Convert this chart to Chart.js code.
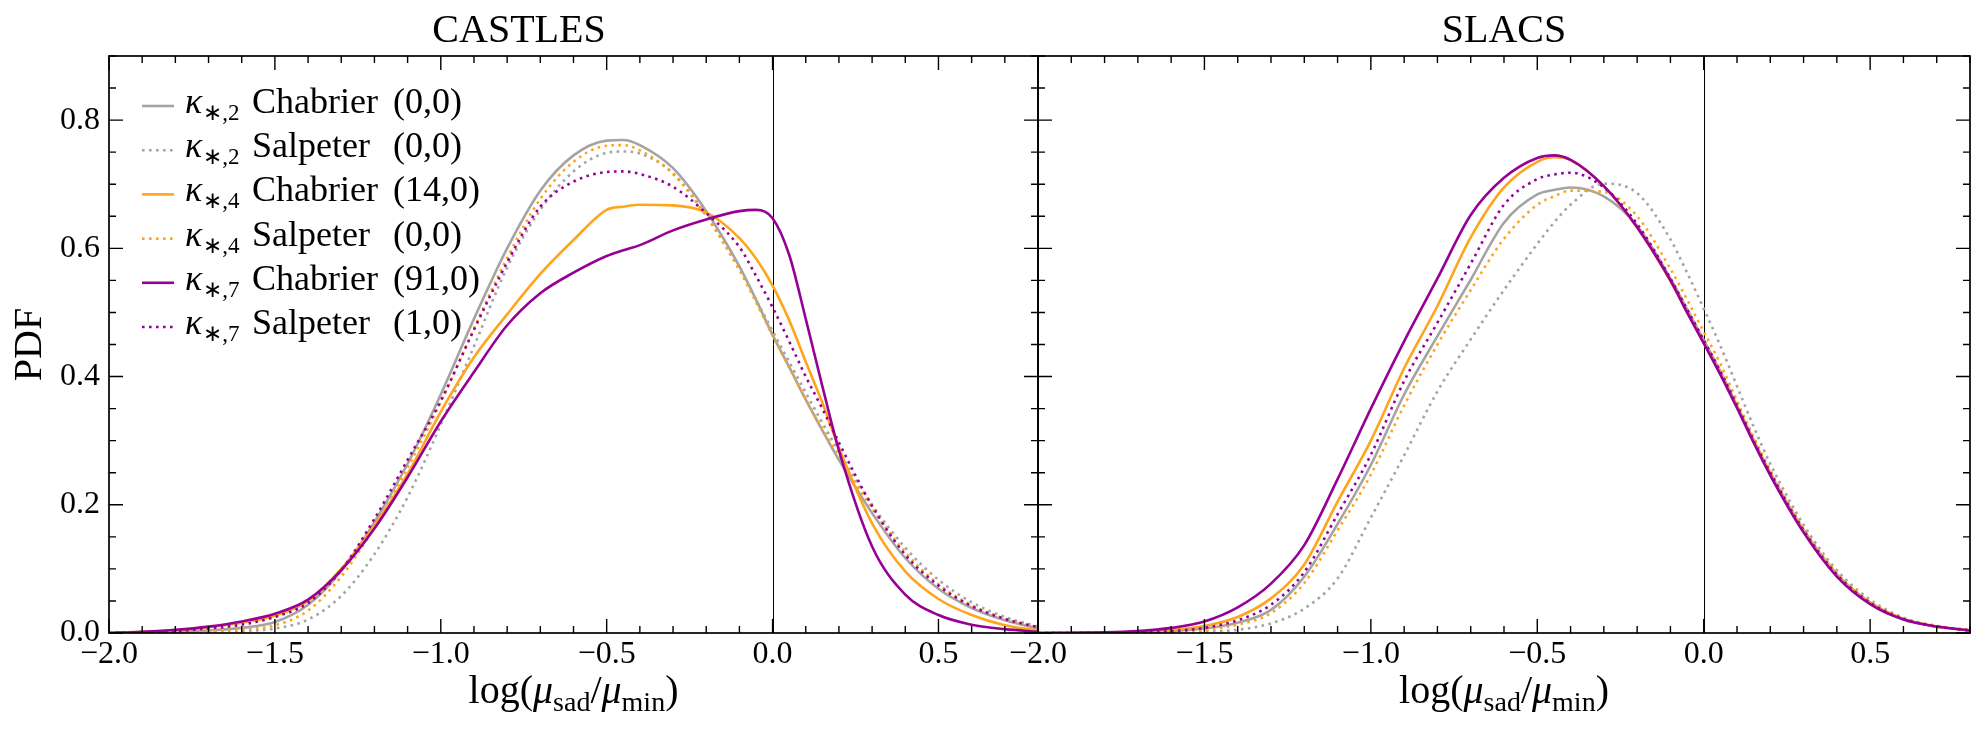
<!DOCTYPE html>
<html>
<head>
<meta charset="utf-8">
<script src="https://cdn.jsdelivr.net/npm/chart.js@4.4.1/dist/chart.umd.min.js"></script>
<style>
  html, body { margin: 0; padding: 0; background: #fff; }
  #wrap { position: relative; width: 1985px; height: 736px; overflow: hidden; }
  canvas { position: absolute; top: 0; }
  #castles { left: 0; }
  #slacs { left: 990px; }
</style>
</head>
<body>
<div id="wrap">
  <canvas id="castles" width="1060" height="736"></canvas>
  <canvas id="slacs" width="995" height="736"></canvas>
</div>
<script>
// x grid: log(mu_sad / mu_min)
const logRatio = [-2.0, -1.9, -1.8, -1.7, -1.6, -1.5, -1.4, -1.3, -1.2, -1.1, -1.0, -0.9, -0.8, -0.7, -0.6, -0.5, -0.45, -0.4, -0.3, -0.2, -0.1,
  -0.05, 0.0, 0.05, 0.1, 0.15, 0.2, 0.3, 0.4, 0.5, 0.6, 0.7, 0.8];

// CASTLES panel
const castlesChab2 = [0, 0.001, 0.002, 0.004, 0.008, 0.017, 0.044, 0.097, 0.173, 0.264, 0.372, 0.49, 0.6, 0.69, 0.745, 0.768, 0.769, 0.761, 0.725, 0.658, 0.572, 0.52, 0.465, 0.415, 0.364, 0.316, 0.27, 0.187, 0.117, 0.069, 0.039, 0.02, 0.007];
const castlesSalp2 = [0, 0, 0.001, 0.002, 0.003, 0.007, 0.021, 0.058, 0.123, 0.212, 0.325, 0.447, 0.57, 0.66, 0.72, 0.749, 0.751, 0.748, 0.717, 0.652, 0.568, 0.52, 0.471, 0.423, 0.375, 0.328, 0.283, 0.2, 0.133, 0.083, 0.048, 0.025, 0.01];
const castlesChab4 = [0, 0.002, 0.004, 0.009, 0.016, 0.027, 0.05, 0.1, 0.168, 0.248, 0.345, 0.43, 0.497, 0.56, 0.613, 0.66, 0.665, 0.668, 0.667, 0.656, 0.616, 0.584, 0.542, 0.488, 0.423, 0.359, 0.289, 0.171, 0.096, 0.053, 0.028, 0.012, 0.004];
const castlesSalp4 = [0, 0.001, 0.002, 0.003, 0.006, 0.012, 0.035, 0.088, 0.165, 0.258, 0.36, 0.475, 0.585, 0.677, 0.735, 0.76, 0.761, 0.753, 0.716, 0.65, 0.566, 0.516, 0.464, 0.414, 0.365, 0.319, 0.275, 0.194, 0.126, 0.076, 0.043, 0.022, 0.008];
const castlesChab7 = [0, 0.002, 0.005, 0.01, 0.018, 0.03, 0.052, 0.098, 0.163, 0.243, 0.33, 0.407, 0.48, 0.53, 0.562, 0.588, 0.597, 0.605, 0.628, 0.645, 0.658, 0.66, 0.647, 0.59, 0.49, 0.385, 0.285, 0.135, 0.06, 0.028, 0.013, 0.006, 0.002];
const castlesSalp7 = [0, 0.001, 0.003, 0.007, 0.013, 0.025, 0.047, 0.098, 0.178, 0.27, 0.362, 0.473, 0.578, 0.665, 0.704, 0.719, 0.72, 0.716, 0.696, 0.655, 0.602, 0.557, 0.508, 0.455, 0.4, 0.35, 0.297, 0.198, 0.122, 0.074, 0.042, 0.022, 0.009];

// SLACS panel
const slacsChab2 = [0, 0, 0.0005, 0.001, 0.003, 0.007, 0.016, 0.036, 0.088, 0.17, 0.262, 0.372, 0.463, 0.551, 0.64, 0.684, 0.691, 0.695, 0.681, 0.635, 0.553, 0.505, 0.457, 0.408, 0.355, 0.301, 0.25, 0.161, 0.092, 0.048, 0.022, 0.01, 0.004];
const slacsSalp2 = [0, 0, 0, 0.0005, 0.001, 0.002, 0.005, 0.015, 0.038, 0.085, 0.18, 0.277, 0.377, 0.458, 0.535, 0.607, 0.64, 0.668, 0.701, 0.686, 0.614, 0.562, 0.506, 0.448, 0.385, 0.322, 0.264, 0.169, 0.098, 0.052, 0.024, 0.011, 0.005];
const slacsChab4 = [0, 0, 0.001, 0.002, 0.005, 0.011, 0.025, 0.054, 0.107, 0.205, 0.3, 0.413, 0.51, 0.617, 0.695, 0.735, 0.742, 0.738, 0.697, 0.632, 0.549, 0.501, 0.453, 0.405, 0.353, 0.299, 0.248, 0.159, 0.09, 0.047, 0.022, 0.01, 0.004];
const slacsSalp4 = [0, 0, 0.0005, 0.001, 0.002, 0.005, 0.013, 0.031, 0.078, 0.16, 0.247, 0.355, 0.45, 0.535, 0.615, 0.668, 0.681, 0.69, 0.688, 0.65, 0.568, 0.52, 0.47, 0.42, 0.362, 0.306, 0.254, 0.163, 0.094, 0.049, 0.023, 0.011, 0.004];
const slacsChab7 = [0, 0.0005, 0.001, 0.003, 0.008, 0.018, 0.04, 0.077, 0.137, 0.24, 0.35, 0.455, 0.553, 0.652, 0.71, 0.741, 0.745, 0.738, 0.697, 0.633, 0.55, 0.5, 0.452, 0.403, 0.351, 0.297, 0.246, 0.157, 0.088, 0.045, 0.021, 0.01, 0.004];
const slacsSalp7 = [0, 0, 0.0005, 0.001, 0.003, 0.008, 0.02, 0.044, 0.095, 0.185, 0.278, 0.393, 0.484, 0.576, 0.668, 0.708, 0.715, 0.718, 0.695, 0.638, 0.553, 0.505, 0.457, 0.408, 0.355, 0.3, 0.25, 0.16, 0.091, 0.047, 0.022, 0.01, 0.004];

// legend text pieces
const kappaIdx = ["∗,2", "∗,2", "∗,4", "∗,4", "∗,7", "∗,7"];
const imfNames = ["Chabrier", "Salpeter", "Chabrier", "Salpeter", "Chabrier", "Salpeter"];
const failCounts = ["(0,0)", "(0,0)", "(14,0)", "(0,0)", "(91,0)", "(1,0)"];

const panelTitles = ["CASTLES", "SLACS"];

const SERIF = "'Liberation Serif', 'Times New Roman', serif";
const lineColors = ["#a4a4a4", "#a4a4a4", "#ffa51c", "#ffa51c", "#960096", "#960096"];
const dotted = [false, true, false, true, false, true];

Chart.defaults.font.family = SERIF;
Chart.defaults.color = "#000";

function makeDatasets(series) {
  return series.map((ys, i) => ({
    label: imfNames[i],
    data: logRatio.map((x, k) => ({ x: x, y: ys[k] })),
    borderColor: lineColors[i],
    borderWidth: 2.6,
    borderDash: dotted[i] ? [2.6, 4.4] : [],
    pointRadius: 0,
    fill: false,
    cubicInterpolationMode: "monotone",
    order: series.length - i, // later series on top, like the original
  }));
}

function fmtTick(v) {
  if (Math.abs(v) < 1e-9) return "0.0";
  return (v < 0 ? "\u2212" : "") + Math.abs(v).toFixed(1);
}

// thin vertical line at log ratio = 0
const zeroLine = {
  id: "zeroLine",
  beforeDatasetsDraw(chart) {
    const { ctx, chartArea, scales } = chart;
    const px = Math.round(scales.x.getPixelForValue(0)) + 0.5;
    ctx.save();
    ctx.strokeStyle = "#000";
    ctx.lineWidth = 1;
    ctx.beginPath();
    ctx.moveTo(px, chartArea.top);
    ctx.lineTo(px, chartArea.bottom);
    ctx.stroke();
    ctx.restore();
  },
};

// frame and inward ticks on all four sides
const frameTicks = {
  id: "frameTicks",
  afterDatasetsDraw(chart) {
    const { ctx, chartArea, scales } = chart;
    const { left, right, top, bottom } = chartArea;
    ctx.save();
    ctx.strokeStyle = "#000";
    ctx.lineWidth = 1.4;
    ctx.beginPath();
    for (let i = -20; i <= 8; i++) {
      const px = scales.x.getPixelForValue(i / 10);
      const len = i % 5 === 0 ? 14 : 7;
      ctx.moveTo(px, bottom);
      ctx.lineTo(px, bottom - len);
      ctx.moveTo(px, top);
      ctx.lineTo(px, top + len);
    }
    for (let j = 0; j <= 18; j++) {
      const py = scales.y.getPixelForValue(j * 0.05);
      const len = j % 4 === 0 ? 14 : 7;
      ctx.moveTo(left, py);
      ctx.lineTo(left + len, py);
      ctx.moveTo(right, py);
      ctx.lineTo(right - len, py);
    }
    ctx.stroke();
    ctx.lineWidth = 1.7;
    ctx.strokeRect(left, top, right - left, bottom - top);
    ctx.restore();
  },
};

// x axis title with subscripts
const xAxisLabel = {
  id: "xAxisLabel",
  afterDraw(chart) {
    const { ctx, chartArea } = chart;
    const parts = [
      { t: "log(", f: "40px " + SERIF, dy: 0 },
      { t: "μ", f: "italic 40px " + SERIF, dy: 0 },
      { t: "sad", f: "28px " + SERIF, dy: 8 },
      { t: "/", f: "40px " + SERIF, dy: 0 },
      { t: "μ", f: "italic 40px " + SERIF, dy: 0 },
      { t: "min", f: "28px " + SERIF, dy: 8 },
      { t: ")", f: "40px " + SERIF, dy: 0 },
    ];
    ctx.save();
    ctx.fillStyle = "#000";
    ctx.textBaseline = "alphabetic";
    ctx.textAlign = "left";
    let total = 0;
    parts.forEach((p) => { ctx.font = p.f; p.w = ctx.measureText(p.t).width; total += p.w; });
    let x = (chartArea.left + chartArea.right) / 2 - total / 2;
    const base = chartArea.bottom + 70;
    parts.forEach((p) => { ctx.font = p.f; ctx.fillText(p.t, x, base + p.dy); x += p.w; });
    ctx.restore();
  },
};

// legend in the upper left of the CASTLES panel
const kappaLegend = {
  id: "kappaLegend",
  afterDraw(chart) {
    const { ctx, chartArea } = chart;
    ctx.save();
    chart.data.datasets.forEach((ds, i) => {
      const y = chartArea.top + 50 + i * 44.2;
      const x0 = chartArea.left + 33;
      ctx.strokeStyle = ds.borderColor;
      ctx.lineWidth = ds.borderWidth;
      ctx.setLineDash(ds.borderDash);
      ctx.beginPath();
      ctx.moveTo(x0, y);
      ctx.lineTo(x0 + 32, y);
      ctx.stroke();
      ctx.setLineDash([]);
      ctx.fillStyle = "#000";
      ctx.textAlign = "left";
      ctx.textBaseline = "alphabetic";
      const kx = chartArea.left + 76;
      ctx.font = "italic 36px " + SERIF;
      ctx.fillText("κ", kx, y + 7);
      const kw = ctx.measureText("κ").width;
      ctx.font = "23px " + SERIF;
      ctx.fillText(kappaIdx[i], kx + kw + 1, y + 14);
      ctx.font = "36px " + SERIF;
      ctx.fillText(imfNames[i], chartArea.left + 143, y + 7);
      ctx.fillText(failCounts[i], chartArea.left + 284, y + 7);
    });
    ctx.restore();
  },
};

function makeChart(canvasId, title, series, isLeft) {
  const plugins = [zeroLine, frameTicks, xAxisLabel];
  if (isLeft) plugins.push(kappaLegend);
  return new Chart(document.getElementById(canvasId), {
    type: "line",
    data: { datasets: makeDatasets(series) },
    plugins: plugins,
    options: {
      responsive: false,
      animation: false,
      layout: { padding: isLeft ? { left: 0, right: 22, top: 0, bottom: 0 } : { left: 48, right: 15, top: 0, bottom: 0 } },
      plugins: {
        legend: { display: false },
        tooltip: { enabled: false },
        title: {
          display: true,
          text: title,
          color: "#000",
          font: { family: SERIF, size: 40, weight: "normal" },
          padding: { top: 7, bottom: 1 },
        },
      },
      scales: {
        x: {
          type: "linear",
          min: -2.0,
          max: 0.8,
          grid: { display: false, drawTicks: false },
          border: { display: false },
          ticks: {
            stepSize: 0.5,
            includeBounds: false,
            autoSkip: false,
            maxRotation: 0,
            padding: 2,
            color: "#000",
            font: { family: SERIF, size: 32, weight: "normal" },
            callback: fmtTick,
          },
          afterFit: (scale) => { scale.height = 103; },
        },
        y: {
          min: 0,
          max: 0.9,
          grid: { display: false, drawTicks: false },
          border: { display: false },
          ticks: {
            display: isLeft,
            stepSize: 0.2,
            includeBounds: false,
            padding: 9,
            color: "#000",
            font: { family: SERIF, size: 32, weight: "normal" },
            callback: fmtTick,
          },
          title: {
            display: isLeft,
            text: "PDF",
            color: "#000",
            font: { family: SERIF, size: 40, weight: "normal" },
            padding: { top: 6, bottom: 0 },
          },
          afterFit: (scale) => { scale.width = isLeft ? 109 : 0; },
        },
      },
    },
  });
}

makeChart("castles", panelTitles[0], [castlesChab2, castlesSalp2, castlesChab4, castlesSalp4, castlesChab7, castlesSalp7], true);
makeChart("slacs", panelTitles[1], [slacsChab2, slacsSalp2, slacsChab4, slacsSalp4, slacsChab7, slacsSalp7], false);
</script>
</body>
</html>
